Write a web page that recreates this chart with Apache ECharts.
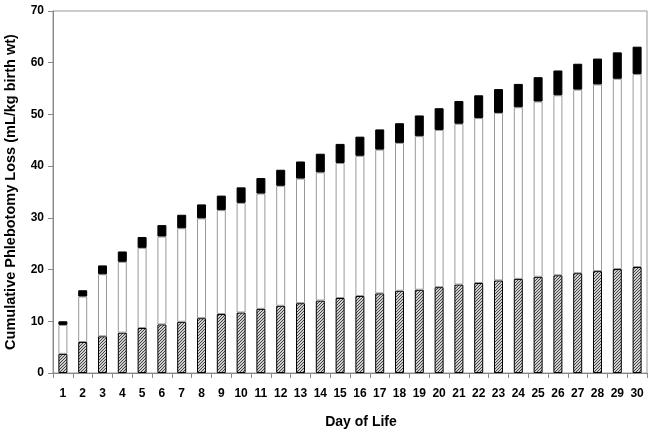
<!DOCTYPE html>
<html><head><meta charset="utf-8">
<script src="https://cdn.jsdelivr.net/npm/echarts@6/dist/echarts.min.js"></script>
<style>html,body{margin:0;padding:0;background:#fff}#c{width:654px;height:435px}</style>
</head><body><div id="c"></div>
<script>
const days = ['1','2','3','4','5','6','7','8','9','10','11','12','13','14','15','16','17','18','19','20','21','22','23','24','25','26','27','28','29','30'];
// segment heights (stacked)
const hatched = [3.7,6.0,7.1,7.8,8.7,9.4,9.9,10.6,11.4,11.7,12.4,13.0,13.5,14.0,14.5,14.9,15.4,15.9,16.1,16.6,17.1,17.4,17.9,18.2,18.6,18.9,19.3,19.7,20.1,20.5];
const white = [5.6,8.8,12.0,13.7,15.5,17.0,18.1,19.3,20.1,21.2,22.3,23.2,24.1,24.8,26.1,27.1,27.8,28.6,29.7,30.4,31.1,31.9,32.4,33.2,33.9,34.8,35.5,36.1,36.8,37.3];
const black = [0.7,1.2,1.7,2.0,2.1,2.2,2.6,2.7,2.8,3.0,3.0,3.1,3.3,3.6,3.7,3.7,3.9,3.8,4.0,4.2,4.4,4.4,4.6,4.5,4.7,4.8,5.0,5.0,5.1,5.3];
const yTicks = [0,10,20,30,40,50,60,70];

const pc = document.createElement('canvas');
pc.width = 3; pc.height = 3;
const g = pc.getContext('2d');
g.fillStyle = '#cfcfcf'; g.fillRect(0,0,3,3);
g.fillStyle = '#444';
g.fillRect(0,2,1,1); g.fillRect(1,1,1,1); g.fillRect(2,0,1,1);

const chart = echarts.init(document.getElementById('c'), null, {renderer:'canvas'});
const font = 'Arial, "Liberation Sans", sans-serif';
chart.setOption({
  animation:false,
  grid:{left:53, right:7, top:11, bottom:62, show:true, borderColor:'#999', borderWidth:1,
    containLabel:false, outerBoundsMode:'none'},
  xAxis:{type:'category', data:days, name:'Day of Life', nameLocation:'middle', nameGap:42,
    nameTextStyle:{fontFamily:font, fontWeight:'bold', fontSize:14, color:'#000', padding:[0,0,0,22]},
    axisLine:{lineStyle:{color:'#888'}}, axisTick:{show:true, length:5, lineStyle:{color:'#888'}},
    axisLabel:{fontFamily:font, fontWeight:'bold', fontSize:12, color:'#000', margin:15, interval:0}},
  yAxis:{type:'value', min:0, max:70, interval:10, name:'Cumulative Phlebotomy Loss (mL/kg birth wt)',
    nameLocation:'middle', nameGap:35,
    nameTextStyle:{fontFamily:font, fontWeight:'bold', fontSize:14.5, color:'#000'},
    axisLine:{show:true, lineStyle:{color:'#888'}}, axisTick:{show:true, length:5, lineStyle:{color:'#888'}},
    splitLine:{show:false},
    axisLabel:{fontFamily:font, fontWeight:'bold', fontSize:12, color:'#000', margin:9,
      formatter:v=> yTicks.includes(v)? String(v):''}},
  series:[
    {type:'bar', stack:'s', data:hatched, barWidth:9,
      itemStyle:{color:{image:pc, repeat:'repeat'}, borderColor:'#000', borderWidth:1}},
    {type:'bar', stack:'s', data:white,
      itemStyle:{color:'#fff', borderColor:'#999', borderWidth:1}},
    {type:'bar', stack:'s', data:black,
      itemStyle:{color:'#000', borderColor:'#000', borderWidth:1}}
  ]
});
</script></body></html>
